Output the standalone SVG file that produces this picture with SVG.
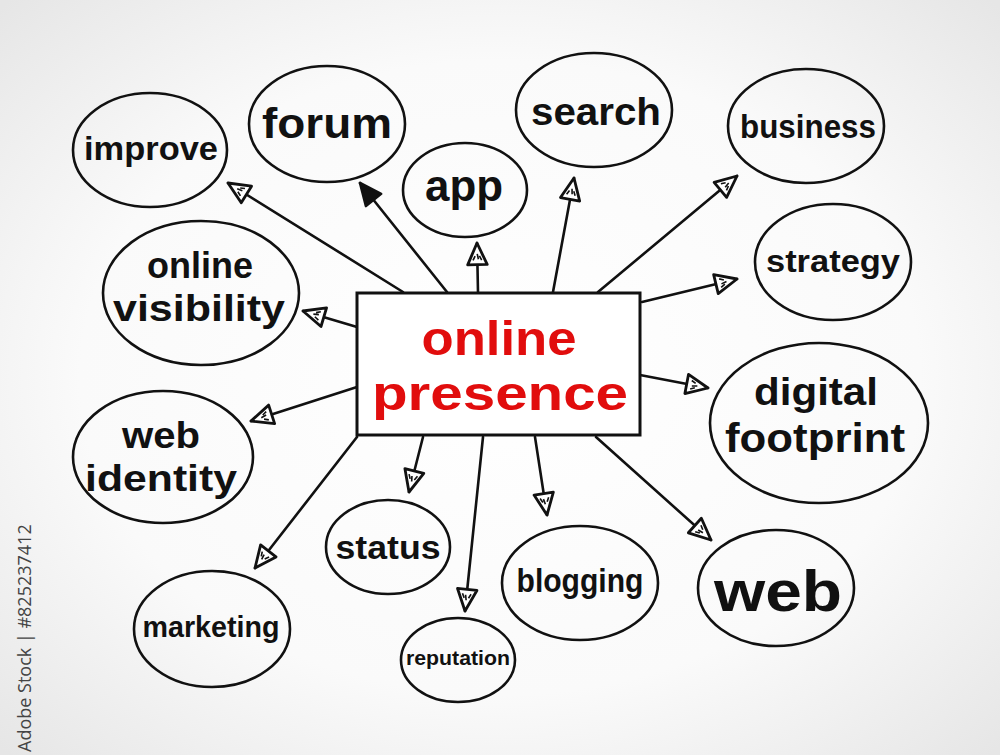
<svg xmlns="http://www.w3.org/2000/svg" width="1000" height="755" viewBox="0 0 1000 755">
<style>
.node ellipse{fill:none;stroke:#111;stroke-width:2.6}
.lbl{font-family:"Liberation Sans",Arial,sans-serif;font-weight:bold;fill:#111;text-anchor:middle}
.conn line{stroke:#111;stroke-width:2.6;stroke-linecap:round}
.ctr{font-family:"Liberation Sans",Arial,sans-serif;font-weight:bold;fill:#e10d0d;text-anchor:middle}
</style>
<defs>
<radialGradient id="bg" cx="50%" cy="50%" r="70%">
<stop offset="0" stop-color="#ffffff"/>
<stop offset="0.6" stop-color="#fafafa"/>
<stop offset="1" stop-color="#e6e6e6"/>
</radialGradient>
<marker id="ah" viewBox="0 0 24 22" refX="22" refY="11" markerWidth="26" markerHeight="24" markerUnits="userSpaceOnUse" orient="auto">
<path d="M2,2 L22,11 L2,20 Z" fill="#fff" stroke="#111" stroke-width="2.6" stroke-linejoin="round"/>
<path d="M6,7 L10,9 M7,12 L12,11 M6,15 L10,13" stroke="#111" stroke-width="1.5"/>
</marker>
<marker id="ahs" viewBox="0 0 24 22" refX="22" refY="11" markerWidth="26" markerHeight="24" markerUnits="userSpaceOnUse" orient="auto">
<path d="M2,2 L22,11 L2,20 Z" fill="#111" stroke="#111" stroke-width="2.4" stroke-linejoin="round"/>
</marker>
</defs>
<rect x="0" y="0" width="1000" height="755" fill="url(#bg)"/>
<text x="0" y="0" transform="translate(31,752) rotate(-90)" font-family="Open Sans, Noto Sans, sans-serif" font-size="18" fill="#444">Adobe Stock | #825237412</text>

<g class="conn" id="connectors">
<line x1="403" y1="292" x2="228" y2="183" marker-end="url(#ah)"/>
<line x1="447" y1="292" x2="360" y2="183" marker-end="url(#ahs)"/>
<line x1="478" y1="292" x2="477" y2="243" marker-end="url(#ah)"/>
<line x1="553" y1="292" x2="574" y2="178" marker-end="url(#ah)"/>
<line x1="598" y1="292" x2="737" y2="176" marker-end="url(#ah)"/>
<line x1="642" y1="302" x2="737" y2="279" marker-end="url(#ah)"/>
<line x1="357" y1="327" x2="303" y2="311" marker-end="url(#ah)"/>
<line x1="640" y1="375" x2="708" y2="388" marker-end="url(#ah)"/>
<line x1="357" y1="387" x2="251" y2="421" marker-end="url(#ah)"/>
<line x1="357" y1="437" x2="255" y2="568" marker-end="url(#ah)"/>
<line x1="423" y1="437" x2="409" y2="492" marker-end="url(#ah)"/>
<line x1="483" y1="437" x2="465" y2="611" marker-end="url(#ah)"/>
<line x1="535" y1="437" x2="547" y2="515" marker-end="url(#ah)"/>
<line x1="596" y1="437" x2="711" y2="540" marker-end="url(#ah)"/>
</g>

<g id="center">
<rect x="357" y="293" width="283" height="142" fill="#fff" stroke="#111" stroke-width="3"/>
<text class="ctr" x="499" y="355" font-size="48" textLength="155" lengthAdjust="spacingAndGlyphs">online</text>
<text class="ctr" x="500" y="410" font-size="48" textLength="256" lengthAdjust="spacingAndGlyphs">presence</text>
</g>

<g class="node" id="n-improve"><ellipse cx="150" cy="150" rx="77" ry="57"/><text class="lbl" x="151" y="160" font-size="34" textLength="134" lengthAdjust="spacingAndGlyphs">improve</text></g>
<g class="node" id="n-forum"><ellipse cx="327" cy="124" rx="78" ry="58"/><text class="lbl" x="327" y="138" font-size="42" textLength="130" lengthAdjust="spacingAndGlyphs">forum</text></g>
<g class="node" id="n-app"><ellipse cx="465" cy="190" rx="62" ry="47"/><text class="lbl" x="464" y="201" font-size="44" textLength="78" lengthAdjust="spacingAndGlyphs">app</text></g>
<g class="node" id="n-search"><ellipse cx="594" cy="110" rx="78" ry="57"/><text class="lbl" x="596" y="125" font-size="38" textLength="130" lengthAdjust="spacingAndGlyphs">search</text></g>
<g class="node" id="n-business"><ellipse cx="806" cy="126" rx="78" ry="57"/><text class="lbl" x="808" y="138" font-size="33" textLength="136" lengthAdjust="spacingAndGlyphs">business</text></g>
<g class="node" id="n-strategy"><ellipse cx="833" cy="262" rx="78" ry="58"/><text class="lbl" x="833" y="272" font-size="32" textLength="134" lengthAdjust="spacingAndGlyphs">strategy</text></g>
<g class="node" id="n-visibility"><ellipse cx="201" cy="293" rx="98" ry="72"/><text class="lbl" x="200" y="278" font-size="37" textLength="106" lengthAdjust="spacingAndGlyphs">online</text><text class="lbl" x="199" y="321" font-size="37" textLength="172" lengthAdjust="spacingAndGlyphs">visibility</text></g>
<g class="node" id="n-webidentity"><ellipse cx="163" cy="457" rx="90" ry="66"/><text class="lbl" x="161" y="448" font-size="37" textLength="78" lengthAdjust="spacingAndGlyphs">web</text><text class="lbl" x="161" y="491" font-size="37" textLength="152" lengthAdjust="spacingAndGlyphs">identity</text></g>
<g class="node" id="n-marketing"><ellipse cx="212" cy="629" rx="78" ry="58"/><text class="lbl" x="211" y="637" font-size="29" textLength="137" lengthAdjust="spacingAndGlyphs">marketing</text></g>
<g class="node" id="n-status"><ellipse cx="388" cy="547" rx="62" ry="47"/><text class="lbl" x="388" y="559" font-size="33" textLength="105" lengthAdjust="spacingAndGlyphs">status</text></g>
<g class="node" id="n-reputation"><ellipse cx="458" cy="660" rx="57" ry="42"/><text class="lbl" x="458" y="665" font-size="21" textLength="104" lengthAdjust="spacingAndGlyphs">reputation</text></g>
<g class="node" id="n-blogging"><ellipse cx="580" cy="583" rx="78" ry="57"/><text class="lbl" x="580" y="592" font-size="34" textLength="127" lengthAdjust="spacingAndGlyphs">blogging</text></g>
<g class="node" id="n-web"><ellipse cx="776" cy="588" rx="78" ry="58"/><text class="lbl" x="778" y="611" font-size="58" textLength="128" lengthAdjust="spacingAndGlyphs">web</text></g>
<g class="node" id="n-footprint"><ellipse cx="819" cy="423" rx="109" ry="80"/><text class="lbl" x="816" y="405" font-size="39" textLength="124" lengthAdjust="spacingAndGlyphs">digital</text><text class="lbl" x="815" y="452" font-size="40" textLength="180" lengthAdjust="spacingAndGlyphs">footprint</text></g>
</svg>
